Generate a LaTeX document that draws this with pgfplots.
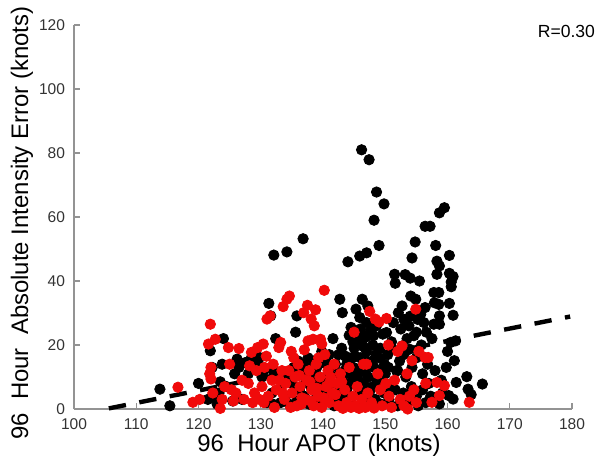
\documentclass[border=0pt]{standalone}
\usepackage{pgfplots}
\pgfplotsset{compat=1.18}
\usepackage{fontspec}
\setmainfont{Liberation Sans}
\definecolor{ptred}{RGB}{240,10,10}
\begin{document}
\begin{tikzpicture}
\begin{axis}[
  scale only axis, width=249bp, height=192bp,
  xmin=100, xmax=180, ymin=0, ymax=120,
  axis x line*=bottom, axis y line*=left,
  axis line style={-, draw=gray!85, line width=0.75bp},
  xtick={100,110,...,180}, ytick={0,20,...,120},
  tick align=inside, major tick length=3bp,
  tick style={draw=gray!85, line width=0.6bp},
  /pgf/number format/assume math mode=true,
  ticklabel style={font=\fontsize{7.8}{9}\selectfont, text=black!80},
  xticklabel style={yshift=-1.5bp},
  yticklabel style={xshift=-1bp},
  xlabel={96\ \ Hour APOT (knots)},
  ylabel={96\ \ Hour\ \ Absolute Intensity Error (knots)},
  label style={font=\fontsize{12}{14}\selectfont, text=black},
  xlabel style={at={(axis description cs:0.492,-0.094)}, anchor=center},
  ylabel style={at={(axis description cs:-0.1044,0.484)}, anchor=center},
  clip=false,
]
% black points
\addplot[only marks, mark=*, mark size=2.6bp, draw=black, fill=black] coordinates {
(146.2,81) (147.4,77.9) (148.6,67.8) (149.8,64.1) (148.2,59) (149,51.1) (147,48.8) (145.9,47.8) (144,46)
(136.8,53.2) (134.2,49.1) (132.1,48.1) (113.8,6.2) (115.4,1.0)
(120.0,8) (121.9,18.2) (122.2,13) (121.5,3) (122.5,3.5) (123,1.5) (123.3,5) (123.5,8.5) (123.8,14) (124,22)
(124.5,7) (125.5,2.5) (125.8,11) (126.2,15.6) (126.5,13) (127,3) (127.5,14.5) (128,11) (128.5,16) (129.5,15) (129.8,16.1)
(130.2,10) (130.5,12) (131,2) (131.3,33) (131.6,29.1) (131.8,5) (132,12) (132.3,11) (132.4,22) (132.8,10.5)
(133.2,2) (133.6,11) (134,4) (134.3,10) (134.6,1.5) (135,8) (135.3,13) (135.6,24) (135.8,29.1) (135.8,2.5) (132,1.5) (133,6)
(136.2,6) (136.5,12) (136.8,14) (137,4) (137.3,9) (137.6,16) (137.8,1.5) (138,7) (138.4,11) (138.8,3) (139,13)
(139.3,8) (139.6,2) (139.8,18) (136,15) (137,11) (138.5,15) (139.5,5)
(140.2,6) (140.4,10) (140.5,15) (140.8,3) (141,12) (141.3,8) (141.6,22) (141.8,1) (142,14) (142.3,5) (142.5,17)
(142.7,34.3) (143,10) (143.1,30.1) (143.4,3) (143.5,12) (143.8,14) (144,7) (144.2,23) (144.5,25.5) (144.6,16)
(144.8,9) (145,1) (145,19) (142,3) (143,19) (141,17)
(140,9) (141.5,13.5) (142.6,11) (143.7,8) (144.3,11) (144.9,13) (145.6,9.5) (146.8,11.5) (147.9,15) (148.9,8)
(149.5,10) (150.5,13) (151.6,6) (139,10.5) (138,13) (141,4.5) (143.9,5) (146.1,6.5) (147.5,4) (150.2,7)
(145.2,16.5) (146.9,22.5) (148.6,26) (144.8,21) (143.6,16.5)
(145.3,31.2) (145.5,12) (145.8,23.1) (145.9,28.6) (145.9,5) (146,16) (146.2,21) (146.3,34.3) (146.5,8) (146.6,14)
(146.8,2) (147,18) (147.2,32.2) (147.3,10) (147.5,24) (147.6,6) (147.8,24.9) (148,20) (148.1,22.9) (148.2,13)
(148.4,3) (148.5,17) (148.7,9) (149,12) (149.2,19) (149.3,1.5) (149.6,23.4) (149.8,5) (149.9,14) (150,11)
(146,25) (147,27) (148,7) (149,16) (146.5,19.5)
(150.2,23.9) (150.4,17) (150.6,3) (150.9,19.7) (151,8) (151.3,27) (151.5,42.1) (151.6,39.3) (151.8,12) (152,1)
(152.1,30.1) (152.3,15) (152.5,25) (152.7,32.2) (152.7,19.7) (152.9,5) (153,28) (153.2,42) (153.3,10) (153.5,22)
(153.6,2) (153.8,26) (153.9,18.7) (154,40.9) (154.1,35.3) (154.2,7) (154.3,47.2) (154.3,13) (154.6,22.9) (154.8,52.2)
(154.9,34.3) (155,24) (155,4) (155.2,28) (155.3,1) (151,21) (152,12) (153,17) (154,29) (155,16)
(155.5,40) (155.7,29.6) (155.8,20) (156,6) (156,11) (156.2,27) (156.4,31.7) (156.5,2) (156.6,24) (156.8,14)
(157,8) (157.2,57.1) (156.4,57.1) (157.3,4) (157.5,22) (157.8,36.4) (157.8,26.5) (157.9,33.2) (158,12) (158.1,51.1)
(158.3,46.2) (158.3,42.1) (158.6,36.4) (158.6,32.7) (158.7,29.1) (158.7,26.5) (158.7,44.7) (158.7,61.3) (158.7,1.6)
(159,9) (159.2,5) (159.5,62.9) (159.8,13) (160,18)
(160.2,4.2) (160.3,48) (160.3,42.4) (160.9,41.4) (160.6,39.7) (160.6,38.2) (160.3,33) (160.9,29.3) (161.3,21.3)
(160.5,20.8) (161.1,15.1) (161.4,8.3) (163.1,10.1) (163.3,6.2) (163.8,4.5) (165.6,7.8) (160.9,3.1)
};
% red points
\addplot[only marks, mark=*, mark size=2.6bp, draw=ptred, fill=ptred] coordinates {
(116.7,6.8) (119.1,2.1) (120.2,3) (121.6,20.3) (121.9,26.5) (122.7,21.8) (122,13) (122,9.4) (121.8,11) (122.3,5)
(123.5,0.2) (123.8,3) (124.2,7) (124.8,19.2) (125,14) (125.3,6) (125.6,2.5) (126.5,18.9) (127.3,3) (128,8)
(128.5,17.7) (129,5) (129.5,19.2) (129.3,12) (129.8,3) (130.4,20.3) (130.2,7) (130.6,13) (130.5,2) (131,28.1)
(131.5,29.1) (131.2,4) (131.8,9) (132.2,0.5) (132.5,6) (132.9,19.2) (133.2,20.8) (133.6,32) (133.4,12) (133.8,3)
(134.2,34.3) (134.6,35.3) (134,8) (134.5,12) (134.8,0.5) (135,5) (135.3,16) (135.5,10) (135.8,1) (136,14)
(136.3,7) (136.9,30.1) (137.2,3) (137.5,32.4) (137.6,21.3) (137.4,9) (137.8,12) (138.1,28.1) (138.4,21.8) (138.6,26)
(138.2,6) (138.5,1) (138.8,31) (138.9,14) (139.2,4) (139.6,21.8) (139.8,20.3) (139.5,10) (139.8,0.5) (140.2,37.1)
(140.3,17) (140.5,7) (140.8,12) (141,2) (141.2,10) (141.5,5) (141.8,14) (142.2,8) (142.5,1) (142.8,11)
(143.2,0.2) (143.5,6) (143.8,2) (144.2,13) (144.5,0.5) (144.8,4) (145.2,1) (145.5,7) (145.8,0.2) (146.2,3)
(146.5,14) (146.8,0.5) (147.2,5) (147.5,30.5) (147.8,2) (148.2,0.3) (148.4,28.1) (148.8,11) (149,27.2) (149.2,6)
(149.5,1) (150.2,28.3) (150.1,8) (150.6,4) (151,0.5) (151.5,9) (152,18) (152.4,3) (152.7,19.7) (153,1)
(153.5,11) (153.6,0) (153.9,4) (154.3,15.1) (154.9,31.2) (154.6,6) (155,2) (155.4,18) (156.4,16.1) (156.9,16.1)
(156.5,8) (157.5,2.1) (158.3,8.3) (158.7,4.2) (159.5,7.3) (163.5,2.1) (145,24) (147,14) (150.5,20) (143,8.5)
(139,6.5) (136.6,3.5)
(126,5) (127,9) (128.7,2) (130.9,16.5) (132,14) (133,9) (134.9,18) (136.2,10.5) (137,18.5) (138,2.5)
(139.3,16) (140.1,3.5) (141,8) (142,4.5) (137.9,8.5) (136.5,1.5) (133.5,5) (128.2,13.5)
};
% regression line
\addplot[black, line width=2.2bp, dash pattern=on 8.7bp off 6.8bp] coordinates {(105.6,0.2) (179.7,28.9)};
\node[font=\fontsize{8.8}{10}\selectfont, anchor=center] at (axis cs:179.1,117.9) {R=0.30};
\coordinate (SW) at (rel axis cs:0,0);
\coordinate (NE) at (rel axis cs:1,1);
\end{axis}
\pgfresetboundingbox
\path[use as bounding box] ([shift={(-37bp,-23.75bp)}]SW) rectangle ([shift={(16.5bp,12.5bp)}]NE);
\end{tikzpicture}
\end{document}
